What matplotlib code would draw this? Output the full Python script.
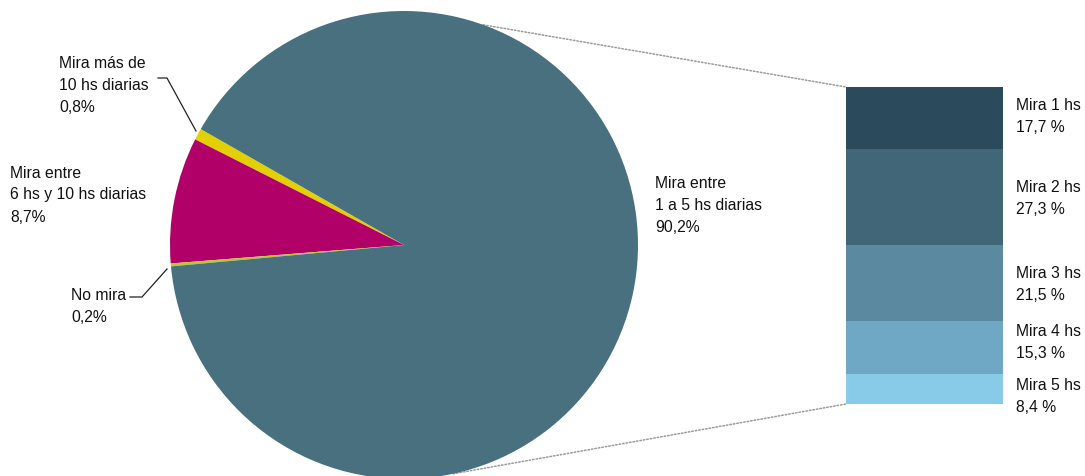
import numpy as np
import matplotlib
matplotlib.use("Agg")
import matplotlib.pyplot as plt
from matplotlib.patches import ConnectionPatch

plt.rcParams['font.family'] = ['Liberation Sans Narrow', 'Liberation Sans', 'DejaVu Sans']

# Pie data
pie_labels = ["Mira más de\n10 hs diarias\n0,8%",
              "Mira entre\n6 hs y 10 hs diarias\n8,7%",
              "No mira\n0,2%",
              "Mira entre\n1 a 5 hs diarias\n90,2%"]
pie_values = [0.8, 8.7, 0.2, 90.2]
pie_colors = ["#e2d000", "#b10068", "#b9c82f", "#48707f"]

# Breakdown bar data
bar_labels = ["Mira 1 hs\n17,7 %", "Mira 2 hs\n27,3 %", "Mira 3 hs\n21,5 %",
              "Mira 4 hs\n15,3 %", "Mira 5 hs\n8,4 %"]
bar_values = [17.7, 27.3, 21.5, 15.3, 8.4]
bar_colors = ["#2b4a5b", "#416677", "#5a89a0", "#6fa8c4", "#87cbe8"]

W, H = 1085, 476
fig = plt.figure(figsize=(W / 100, H / 100), dpi=100)

def px_axes(x0, y0, w, h):
    return fig.add_axes([x0 / W, 1 - (y0 + h) / H, w / W, h / H])

# Pie axes
cx, cy, r = 404, 245, 234
axp = px_axes(cx - r, cy - r, 2 * r, 2 * r)
wedges, _ = axp.pie(pie_values, colors=pie_colors, startangle=150.3,
                    counterclock=True, radius=1, wedgeprops=dict(linewidth=0))
axp.set_xlim(-1, 1)
axp.set_ylim(-1, 1)
axp.set_aspect('equal')
axp.axis('off')

# Bar axes
bx0, by0, bw, bh = 846, 87, 157, 317
axb = px_axes(bx0, by0, bw, bh)
total = sum(bar_values)
bottom = total
for v, c in zip(bar_values, bar_colors):
    bottom -= v
    axb.bar(0, v, bottom=bottom, width=1, color=c, linewidth=0)
axb.set_xlim(-0.5, 0.5)
axb.set_ylim(0, total)
axb.axis('off')

# Connection lines
for ang, yb in [(70.2, total), (-77.9, 0)]:
    a = np.deg2rad(ang)
    con = ConnectionPatch(xyA=(np.cos(a), np.sin(a)), coordsA=axp.transData,
                          xyB=(-0.5, yb), coordsB=axb.transData,
                          color="#9a9a9a", linestyle=(0, (1, 1.3)), linewidth=1.1)
    con.set_zorder(0)
    fig.add_artist(con)

# Text overlay axes in pixel coords
axt = fig.add_axes([0, 0, 1, 1])
axt.set_xlim(0, W)
axt.set_ylim(H, 0)
axt.axis('off')
axt.patch.set_alpha(0)

fs = 11.3
step = 22

def put(label, x, y_first):
    for i, line in enumerate(label.split("\n")):
        axt.text(x, y_first + i * step, line, fontsize=fs, va='center',
                 ha='left', color="#111111")

put(pie_labels[0], 59, 63)
put(pie_labels[1], 10, 173)
put(pie_labels[2], 71, 295)
put(pie_labels[3], 655, 184)

# leader lines
axt.plot([158, 167, 196], [78, 78, 131], color="#222222", lw=0.9)
axt.plot([130, 142, 167], [297, 297, 269], color="#222222", lw=0.9)

label_firsts = [106, 188, 273, 332, 385]
for lab, yf in zip(bar_labels, label_firsts):
    put(lab, 1016, yf)

fig.savefig("out.png", dpi=100)
